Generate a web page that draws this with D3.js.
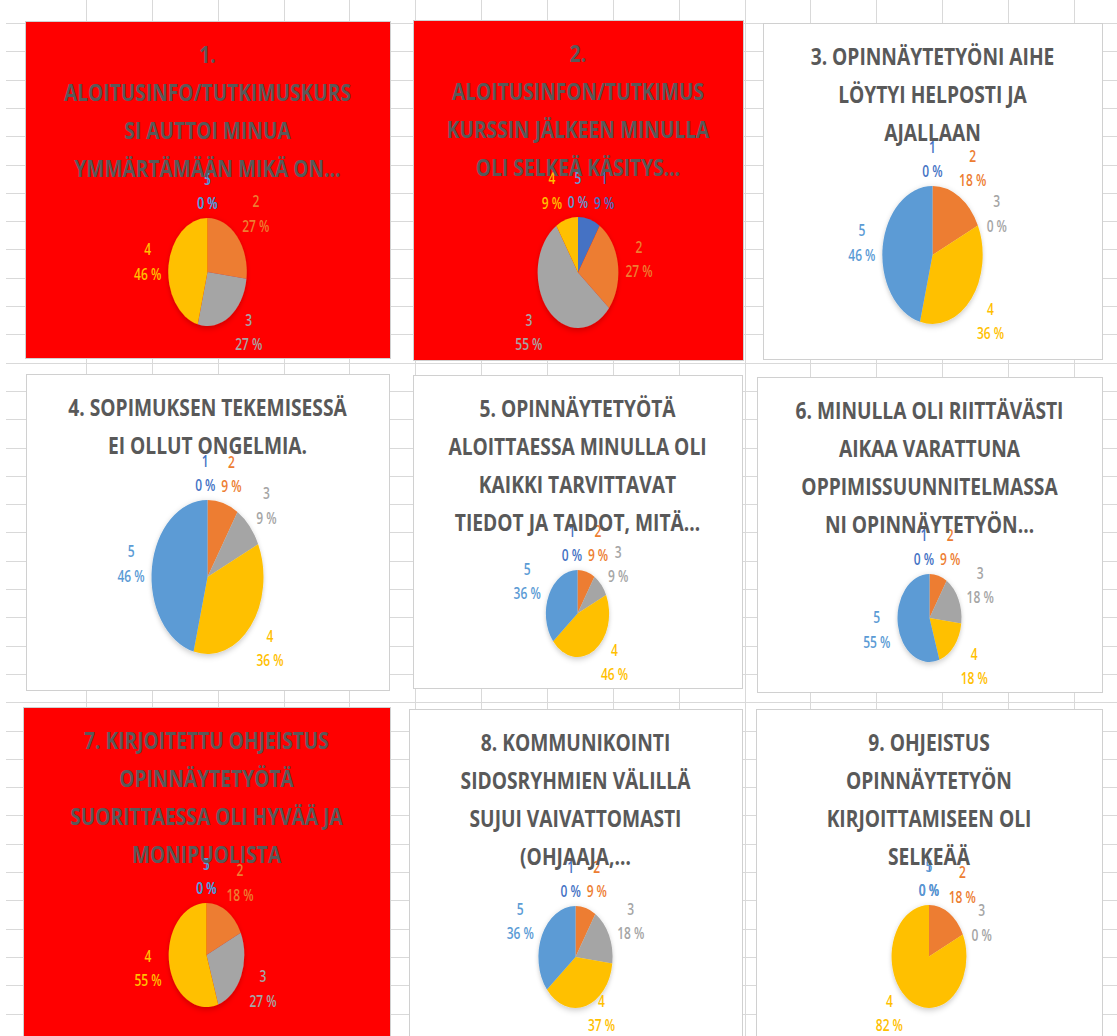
<!DOCTYPE html>
<html>
<head>
<meta charset="utf-8">
<script src="https://cdn.jsdelivr.net/npm/d3@7"></script>
<style>
  html, body { margin: 0; padding: 0; background: #fff; }
  svg { display: block; }
</style>
</head>
<body>
<svg id="sheet" width="1117" height="1036"></svg>
<script>
// Likert answer categories 1..5 and the Office palette used for them
const categories = ["1", "2", "3", "4", "5"];
const sliceColors = ["#4472C4", "#ED7D31", "#A5A5A5", "#FFC000", "#5B9BD5"];

// Question titles, one array of display lines per chart
const titles = [
  ["1.", "ALOITUSINFO/TUTKIMUSKURS", "SI AUTTOI MINUA", "YMMÄRTÄMÄÄN MIKÄ ON…"],
  ["2.", "ALOITUSINFON/TUTKIMUS", "KURSSIN JÄLKEEN MINULLA", "OLI SELKEÄ KÄSITYS…"],
  ["3. OPINNÄYTETYÖNI AIHE", "LÖYTYI HELPOSTI JA", "AJALLAAN"],
  ["4. SOPIMUKSEN TEKEMISESSÄ", "EI OLLUT ONGELMIA."],
  ["5. OPINNÄYTETYÖTÄ", "ALOITTAESSA MINULLA OLI", "KAIKKI TARVITTAVAT", "TIEDOT JA TAIDOT, MITÄ…"],
  ["6. MINULLA OLI RIITTÄVÄSTI", "AIKAA VARATTUNA", "OPPIMISSUUNNITELMASSA", "NI OPINNÄYTETYÖN…"],
  ["7. KIRJOITETTU OHJEISTUS", "OPINNÄYTETYÖTÄ", "SUORITTAESSA OLI HYVÄÄ JA", "MONIPUOLISTA"],
  ["8. KOMMUNIKOINTI", "SIDOSRYHMIEN VÄLILLÄ", "SUJUI VAIVATTOMASTI", "(OHJAAJA,…"],
  ["9. OHJEISTUS", "OPINNÄYTETYÖN", "KIRJOITTAMISEEN OLI", "SELKEÄÄ"]
];

// Share of answers (%) for categories 1..5, per question
const shares = [
  [0, 27, 27, 46, 0],
  [9, 27, 55, 9, 0],
  [0, 18, 0, 36, 46],
  [0, 9, 9, 36, 46],
  [0, 9, 9, 46, 36],
  [0, 9, 18, 18, 55],
  [0, 18, 27, 55, 0],
  [0, 9, 18, 37, 36],
  [0, 18, 0, 82, 0]
];

// Chart boxes on the worksheet (position, size, fill, pie centre offset, pie radius)
const panels = [
  { x: 25,  y: 21,  w: 365, h: 337, fill: "#FF0000", cy: 251,   r: 54 },
  { x: 413, y: 20,  w: 330, h: 340, fill: "#FF0000", cy: 252.5, r: 55.5 },
  { x: 763, y: 23,  w: 339, h: 336, fill: "#FFFFFF", cy: 232,   r: 69 },
  { x: 26,  y: 374, w: 363, h: 316, fill: "#FFFFFF", cy: 203,   r: 77 },
  { x: 413, y: 375, w: 329, h: 313, fill: "#FFFFFF", cy: 238.5, r: 43.5 },
  { x: 757, y: 377, w: 345, h: 315, fill: "#FFFFFF", cy: 241,   r: 44 },
  { x: 23,  y: 707, w: 367, h: 331, fill: "#FF0000", cy: 248,   r: 52 },
  { x: 409, y: 709, w: 333, h: 330, fill: "#FFFFFF", cy: 248,   r: 51 },
  { x: 756, y: 709, w: 346, h: 330, fill: "#FFFFFF", cy: 247.5, r: 51.5 }
];

const W = 1117, H = 1036;
const squash = 0.727;       // horizontal compression of the sheet view
const titleSquash = 0.8;
const labelPitch = 24.5;

const svg = d3.select("#sheet");

const defs = svg.append("defs");
const shadow = defs.append("filter").attr("id", "pieShadow")
  .attr("x", "-30%").attr("y", "-30%").attr("width", "160%").attr("height", "160%");
shadow.append("feDropShadow").attr("dx", 0).attr("dy", 2).attr("stdDeviation", 3)
  .attr("flood-color", "#000").attr("flood-opacity", 0.22);

// worksheet cell grid
const colW = 65.85, rowH = 28.3;
const grid = svg.append("g").attr("stroke", "#d9d9d9").attr("stroke-width", 1)
  .attr("shape-rendering", "crispEdges");
grid.selectAll("line.v").data(d3.range(86, W, colW)).join("line").attr("class", "v")
  .attr("x1", d => Math.round(d) + 0.5).attr("x2", d => Math.round(d) + 0.5)
  .attr("y1", 0).attr("y2", H);
grid.selectAll("line.h").data(d3.range(23, H, rowH)).join("line").attr("class", "h")
  .attr("x1", 6).attr("x2", W)
  .attr("y1", d => Math.round(d) + 0.5).attr("y2", d => Math.round(d) + 0.5);

panels.forEach((p, i) => {
  const g = svg.append("g").attr("class", "chart");
  g.append("rect")
    .attr("x", p.x + 0.5).attr("y", p.y + 0.5)
    .attr("width", p.w).attr("height", p.h)
    .attr("fill", p.fill).attr("stroke", "#d0d0d0");

  const cx = p.x + p.w / 2, cy = p.y + p.cy;
  const plot = g.append("g").attr("transform", `translate(${cx},${cy}) scale(${squash},1)`);

  const arcs = d3.pie().sort(null).value(d => d)(shares[i]);
  const arc = d3.arc().innerRadius(0).outerRadius(p.r);

  plot.append("g").attr("filter", "url(#pieShadow)")
    .selectAll("path").data(arcs.filter(a => a.value > 0)).join("path")
    .attr("d", arc)
    .attr("fill", a => sliceColors[a.index]);

  // data labels: category on the first line, share on the second, outside end
  const lg = plot.append("g")
    .style("font-family", "'Open Sans', 'Noto Sans', sans-serif")
    .style("font-size", "16.5px").style("font-weight", 600);

  const maxY = p.y + p.h - 26 - cy;
  const labs = arcs.map(a => {
    const t = lg.append("text").attr("text-anchor", "middle").attr("fill", sliceColors[a.index]);
    t.append("tspan").attr("x", 0).attr("y", -labelPitch / 2 + 6).text(categories[a.index]);
    t.append("tspan").attr("x", 0).attr("y", labelPitch / 2 + 6).text(`${a.value} %`);
    const hw = t.node().getBBox().width / 2, hh = 19;
    const th = (a.startAngle + a.endAngle) / 2;
    const D = p.r + 8 + hw * Math.abs(Math.sin(th)) + hh * Math.abs(Math.cos(th));
    let x = D * Math.sin(th);
    let y = -D * Math.cos(th);
    if (y > maxY) {
      // label pushed up by the chart's bottom edge: slide it sideways off the pie
      x += Math.sign(Math.sin(th)) * 0.55 * (y - maxY);
      y = maxY;
    }
    return { t, hw, x, y, x0: x, y0: y };
  });

  // spread labels that share a row so they do not collide
  for (let it = 0; it < 40; it++) {
    for (let a = 0; a < labs.length; a++) {
      for (let b = a + 1; b < labs.length; b++) {
        const A = labs[a], B = labs[b];
        if (Math.abs(A.x0 - B.x0) < 0.5 && Math.abs(A.y0 - B.y0) < 0.5) continue;
        if (Math.abs(A.y - B.y) >= 12) continue;
        const need = A.hw + B.hw + 8;
        const dx = B.x - A.x;
        if (Math.abs(dx) < need) {
          const push = (need - Math.abs(dx)) / 2;
          const s = dx >= 0 ? 1 : -1;
          A.x -= s * push;
          B.x += s * push;
        }
      }
    }
  }
  labs.forEach(l => l.t.attr("transform", `translate(${l.x},${l.y})`));

  // chart title
  const title = g.append("text")
    .attr("transform", `translate(${cx},${p.y + 42}) scale(${titleSquash},1)`)
    .attr("text-anchor", "middle")
    .attr("fill", "#595959")
    .style("font-family", "'Open Sans', 'Noto Sans', sans-serif")
    .style("font-size", "24px").style("font-weight", 700);
  titles[i].forEach((line, k) => {
    title.append("tspan").attr("x", 0).attr("y", k * 38).text(line);
  });
});
</script>
</body>
</html>
